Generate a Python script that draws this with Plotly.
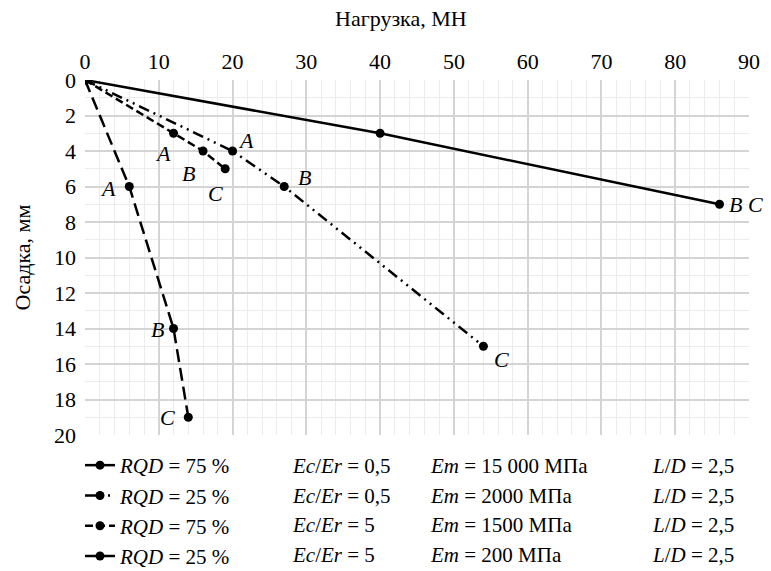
import plotly.graph_objects as go

# Data
s1_x = [0, 40, 86]
s1_y = [0, 3, 7]
s2_x = [0, 20, 27, 54]
s2_y = [0, 4, 6, 15]
s3_x = [0, 12, 16, 19]
s3_y = [0, 3, 4, 5]
s4_x = [0, 6, 12, 14]
s4_y = [0, 6, 14, 19]

legend_rqd = ["<i>RQD</i> = 75 %", "<i>RQD</i> = 25 %", "<i>RQD</i> = 75 %", "<i>RQD</i> = 25 %"]
legend_ec = ["<i>Ec</i>/<i>Er</i> = 0,5", "<i>Ec</i>/<i>Er</i> = 0,5", "<i>Ec</i>/<i>Er</i> = 5", "<i>Ec</i>/<i>Er</i> = 5"]
legend_em = ["<i>Em</i> = 15 000 МПа", "<i>Em</i> = 2000 МПа", "<i>Em</i> = 1500 МПа", "<i>Em</i> = 200 МПа"]
legend_ld = ["<i>L</i>/<i>D</i> = 2,5"] * 4

# point labels: (x, y, text, xshift, yshift, anchor)
point_labels = [
    (86, 7, "B C", 8, 0, "left"),
    (20, 4, "A", 13, 11, "center"),
    (27, 6, "B", 20, 9, "center"),
    (54, 15, "C", 18, -13, "center"),
    (12, 3, "A", -11, -20, "center"),
    (16, 4, "B", -15, -22, "center"),
    (19, 5, "C", -10, -25, "center"),
    (6, 6, "A", -21, -2, "center"),
    (12, 14, "B", -16, -1, "center"),
    (14, 19, "C", -21, 0, "center"),
]

FONT = "Liberation Serif"
FS = 22

series = [
    (s1_x, s1_y, "solid"),
    (s2_x, s2_y, "11px,5px,2px,5px,2px,5px"),
    (s3_x, s3_y, "8px,4px"),
    (s4_x, s4_y, "13px,6px"),
]

fig = go.Figure()
for i, (xs, ys, dash) in enumerate(series):
    fig.add_trace(go.Scatter(
        x=xs, y=ys, mode="lines+markers",
        line=dict(color="black", width=2.5, dash=dash),
        marker=dict(color="black", size=9),
        name=legend_rqd[i],
    ))

for (x, y, t, xs, ys, anc) in point_labels:
    fig.add_annotation(x=x, y=y, xref="x", yref="y", text="<i>%s</i>" % t,
                       showarrow=False, xshift=xs, yshift=ys, xanchor=anc,
                       font=dict(family=FONT, size=FS, color="black"))

L, R, T, B = 85, 22, 80, 136
H_PLOT = 571 - T - B
W_PLOT = 771 - L - R
row_y = [466, 495.5, 525, 554.5]
col_x = [(290, legend_ec), (428, legend_em), (650, legend_ld)]
for cx, texts in col_x:
    for ry, t in zip(row_y, texts):
        fig.add_annotation(x=(cx - L) / W_PLOT, y=(571 - B - ry) / H_PLOT,
                           xref="paper", yref="paper", text=t, showarrow=False,
                           xanchor="left", yanchor="middle",
                           font=dict(family=FONT, size=21, color="black"))

fig.add_annotation(x=(401 - L) / W_PLOT, y=(T - 18) / H_PLOT + 1, xref="paper", yref="paper",
                   text="Нагрузка, МН", showarrow=False, xanchor="center", yanchor="middle",
                   font=dict(family=FONT, size=FS, color="black"))
fig.add_annotation(x=(22 - L) / W_PLOT, y=0.5, xref="paper", yref="paper",
                   text="Осадка, мм", showarrow=False, textangle=-90,
                   xanchor="center", yanchor="middle",
                   font=dict(family=FONT, size=FS, color="black"))

fig.update_layout(
    width=771, height=571,
    margin=dict(l=L, r=R, t=T, b=B, autoexpand=False),
    paper_bgcolor="white", plot_bgcolor="white",
    font=dict(family=FONT, size=FS, color="black"),
    showlegend=True,
    legend=dict(x=(80 - L) / W_PLOT, y=(571 - B - 445) / H_PLOT, xanchor="left", yanchor="top",
                bgcolor="rgba(0,0,0,0)", font=dict(size=21)),
    xaxis=dict(side="top", range=[0, 90], dtick=10, tick0=0, showgrid=True,
               gridcolor="#d4d4d4", gridwidth=1.5, zeroline=False, showline=False,
               ticks="", ticklabelstandoff=6,
               minor=dict(dtick=2, showgrid=True, gridcolor="#ececec", gridwidth=1)),
    yaxis=dict(range=[20, 0], dtick=2, tick0=0, showgrid=True,
               gridcolor="#d4d4d4", gridwidth=1.5, zeroline=False, showline=False,
               ticks="", ticklabelstandoff=8,
               minor=dict(dtick=1, showgrid=True, gridcolor="#ececec", gridwidth=1)),
)

fig.write_html("out.html")
